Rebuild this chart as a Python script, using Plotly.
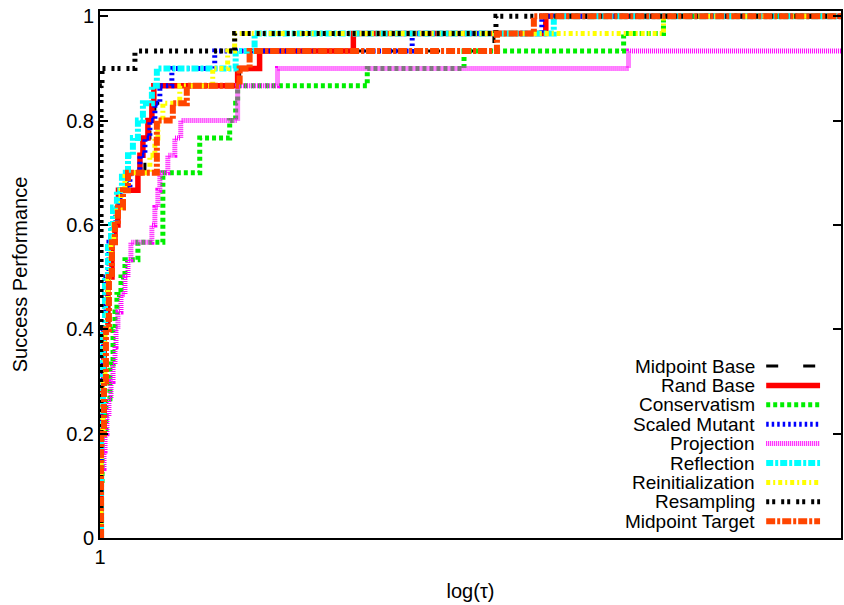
import plotly.graph_objects as go

N_PROBLEMS = 30

series_names = ["Midpoint Base", "Rand Base", "Conservatism", "Scaled Mutant", "Projection",
                "Reflection", "Reinitialization", "Resampling", "Midpoint Target"]
series_colors = ["#000000", "#ff0000", "#00ee00", "#0000ff", "#ff00ff",
                 "#00ffff", "#ffff00", "#000000", "#ff4500"]

# tau at which each profile steps up, and number of problems solved (of 30)
tau_midpoint_base = [1.01, 1.01, 1.028, 1.048, 1.077, 1.108, 1.139, 1.171, 1.216, 1.286, 1.520, 1.592, 1.668, 1.830, 3.676, 4.034, 39.35, 57.08, 1000]
cnt_midpoint_base = [0, 6, 9, 12, 15, 17, 18, 19, 20, 21, 23, 24, 25, 26, 27, 28, 29, 30, 30]

tau_rand_base = [1.01, 1.01, 1.038, 1.077, 1.118, 1.150, 1.182, 1.188, 1.424, 1.451, 1.492, 1.563, 1.622, 1.652, 3.608, 4.427, 10.61, 63.80, 1000]
cnt_rand_base = [0, 9, 12, 15, 17, 18, 19, 20, 21, 22, 23, 24, 25, 26, 27, 28, 29, 30, 30]

tau_conservatism = [1.01, 1.01, 1.019, 1.057, 1.097, 1.129, 1.150, 1.171, 1.216, 1.262, 1.424, 1.797, 2.534, 3.350, 3.542, 3.608, 12.08, 29.77, 131.8, 191.1, 1000]
cnt_conservatism = [0, 3, 6, 8, 10, 12, 13, 14, 15, 16, 17, 21, 23, 24, 25, 26, 27, 28, 29, 30, 30]

tau_scaled_mutant = [1.01, 1.01, 1.028, 1.057, 1.087, 1.118, 1.160, 1.205, 1.322, 1.451, 1.520, 1.592, 1.668, 1.747, 1.954, 2.914, 18.36, 61.48, 1000]
cnt_scaled_mutant = [0, 9, 12, 15, 17, 18, 19, 20, 21, 22, 23, 24, 25, 26, 27, 28, 29, 30, 30]

tau_projection = [1.01, 1.01, 1.038, 1.048, 1.067, 1.087, 1.108, 1.129, 1.150, 1.161, 1.182, 1.216, 1.262, 1.298, 1.334, 1.622, 1.668, 1.715, 1.747, 1.882, 2.009, 2.123, 3.608, 5.233, 138.0, 1000]
cnt_projection = [0, 4, 5, 6, 7, 8, 9, 10, 11, 12, 13, 14, 15, 16, 17, 18, 19, 20, 21, 22, 23, 24, 26, 27, 28, 28]

tau_reflection = [1.01, 1.01, 1.028, 1.048, 1.077, 1.108, 1.129, 1.171, 1.227, 1.298, 1.359, 1.424, 1.492, 1.622, 1.699, 3.542, 4.226, 68.73, 1000]
cnt_reflection = [0, 6, 12, 15, 17, 18, 19, 20, 21, 22, 23, 24, 25, 26, 27, 28, 29, 30, 30]

tau_reinitialization = [1.01, 1.01, 1.028, 1.048, 1.077, 1.108, 1.139, 1.171, 1.216, 1.262, 1.592, 1.668, 1.715, 1.797, 2.104, 2.860, 3.288, 3.509, 191.1, 1000]
cnt_reinitialization = [0, 6, 9, 12, 15, 17, 18, 19, 20, 21, 22, 23, 24, 25, 26, 27, 28, 29, 30, 30]

tau_resampling = [1.01, 1.01, 1.019, 1.385, 3.509, 40.09, 1000]
cnt_resampling = [0, 26, 27, 28, 29, 30, 30]

tau_midpoint_target = [1.01, 1.01, 1.038, 1.057, 1.087, 1.118, 1.150, 1.182, 1.239, 1.298, 1.699, 1.972, 2.246, 3.676, 4.034, 40.46, 57.08, 1000]
cnt_midpoint_target = [0, 6, 9, 12, 15, 17, 18, 19, 20, 21, 24, 25, 26, 27, 28, 29, 30, 30]

x_ticks = [1, 1000]
x_tick_labels = ["1", ""]
y_ticks = [0, 0.2, 0.4, 0.6, 0.8, 1]
y_tick_labels = ["0", "0.2", "0.4", "0.6", "0.8", "1"]

taus = [tau_midpoint_base, tau_rand_base, tau_conservatism, tau_scaled_mutant, tau_projection,
        tau_reflection, tau_reinitialization, tau_resampling, tau_midpoint_target]
cnts = [cnt_midpoint_base, cnt_rand_base, cnt_conservatism, cnt_scaled_mutant, cnt_projection,
        cnt_reflection, cnt_reinitialization, cnt_resampling, cnt_midpoint_target]

styles = [
    dict(width=3, dash="12px,25px"),
    dict(width=5.5, dash="solid"),
    dict(width=5, dash="4px,3px"),
    dict(width=5, dash="2.5px,3px"),
    dict(width=5, dash="1px,1px"),
    dict(width=6, dash="7px,2px,3px,2px"),
    dict(width=5, dash="4px,3px,2px,3px"),
    dict(width=5, dash="3px,3px,3px,6px"),
    dict(width=6, dash="9px,2px,3px,2px"),
]

FONT = "Liberation Sans, Arial, Helvetica, sans-serif"
FS = 20
KEY_FS = 19

fig = go.Figure()
for name, color, t, c, st in zip(series_names, series_colors, taus, cnts, styles):
    fig.add_trace(go.Scatter(
        x=t, y=[v / N_PROBLEMS for v in c], mode="lines", name=name,
        line=dict(color=color, width=st["width"], dash=st["dash"], shape="hv"),
        showlegend=False, hoverinfo="skip",
    ))

# gnuplot-style key (text right-aligned, sample on the right)
plot_left, plot_right, plot_top, plot_bottom = 100, 843, 11, 538
pw, ph = plot_right - plot_left, plot_bottom - plot_top
key_top, key_step = 366, 19.4
text_right, samp_l, samp_r = 758, 768, 822
shapes = []
annotations = []
for i, (name, color, st) in enumerate(zip(series_names, series_colors, styles)):
    py = key_top + i * key_step
    yp = (plot_bottom - py) / ph
    annotations.append(dict(
        x=(text_right - plot_left) / pw, y=yp, xref="paper", yref="paper",
        text=name, showarrow=False, xanchor="right", yanchor="middle",
        borderpad=0, font=dict(family=FONT, size=KEY_FS, color="black"),
    ))
    shapes.append(dict(
        type="line", xref="paper", yref="paper",
        x0=(samp_l - plot_left) / pw, x1=(samp_r - plot_left) / pw, y0=yp, y1=yp,
        line=dict(color=color, width=st["width"], dash=st["dash"]),
    ))

fig.update_layout(
    width=844, height=605,
    margin=dict(l=plot_left, r=844 - plot_right, t=plot_top, b=605 - plot_bottom),
    paper_bgcolor="white", plot_bgcolor="white",
    font=dict(family=FONT, size=FS, color="black"),
    shapes=shapes, annotations=annotations,
    xaxis=dict(
        type="log", range=[0, 3], tickvals=x_ticks, ticktext=x_tick_labels,
        ticks="inside", ticklen=8, tickwidth=1.5, tickcolor="black",
        showline=True, linecolor="black", linewidth=2, mirror="ticks",
        showgrid=False, zeroline=False,
        title=dict(text="log(τ)", standoff=17, font=dict(size=FS)),
        tickfont=dict(size=FS),
    ),
    yaxis=dict(
        range=[0, 1.01], tickvals=y_ticks, ticktext=y_tick_labels,
        ticks="inside", ticklen=8, tickwidth=1.5, tickcolor="black",
        showline=True, linecolor="black", linewidth=2, mirror="ticks",
        showgrid=False, zeroline=False,
        title=dict(text="Success Performance", standoff=33, font=dict(size=FS)),
        tickfont=dict(size=FS),
    ),
)

fig.write_html("out.html")
